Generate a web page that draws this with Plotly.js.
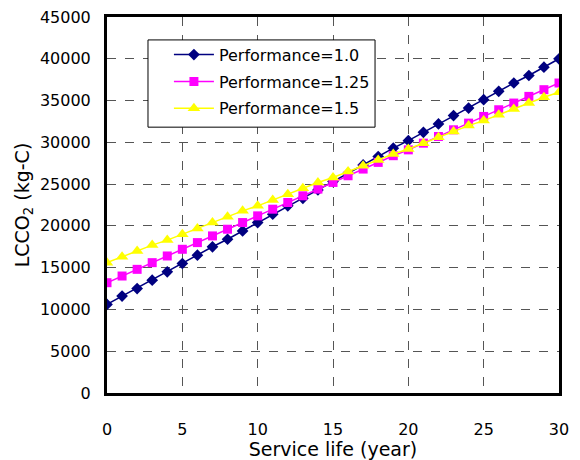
<!DOCTYPE html>
<html><head><meta charset="utf-8">
<script src="https://cdn.plot.ly/plotly-3.0.1.min.js"></script>
<style>body{margin:0;background:#fff}#c{width:580px;height:460px}</style>
</head><body><div id="c"></div>
<script>
const years = [0,1,2,3,4,5,6,7,8,9,10,11,12,13,14,15,16,17,18,19,20,21,22,23,24,25,26,27,28,29,30];
const perf10 = [10600,11600,12500,13500,14500,15500,16500,17500,18400,19400,20400,21400,22400,23300,24300,25300,26300,27300,28300,29300,30200,31200,32200,33200,34100,35100,36100,37100,38000,39000,40000];
const perf125 = [13200,14000,14800,15600,16400,17200,18000,18800,19600,20400,21200,22000,22800,23600,24400,25200,26000,26800,27600,28400,29100,29900,30700,31500,32300,33100,33900,34700,35500,36300,37100];
const perf15 = [15600,16300,17000,17700,18300,19000,19700,20400,21100,21800,22400,23100,23800,24500,25200,25800,26500,27200,27900,28600,29200,29900,30600,31300,32000,32600,33300,34000,34700,35400,36000];
const names = ["Performance=1.0","Performance=1.25","Performance=1.5"];
const xTicks = [0,5,10,15,20,25,30];
const yTicks = [0,5000,10000,15000,20000,25000,30000,35000,40000,45000];

const font = "'DejaVu Sans', sans-serif";
const traces = [
  {x: years, y: perf10, name: names[0], legendgroup:'a', mode: 'lines+markers', line:{color:'#000080', width:1.5}, marker:{symbol:'diamond', size:9, color:'#000080'}},
  {x: years, y: perf125, name: names[1], legendgroup:'b', mode: 'lines+markers', line:{color:'#FF00FF', width:1.5}, marker:{symbol:'square', size:9, color:'#FF00FF'}},
  {x: years, y: perf15, name: names[2], legendgroup:'c', mode: 'lines+markers', line:{color:'#FFFF00', width:1.5}, marker:{symbol:'triangle-up', size:11, color:'#FFFF00'}}
];
const layout = {
  width:580, height:460,
  margin:{l:107, r:21, t:17, b:67},
  paper_bgcolor:'#fff', plot_bgcolor:'#fff',
  font:{family:font, color:'#000', size:15},
  showlegend:true,
  shapes:[{type:'rect', xref:'paper', yref:'paper', x0:0.0907, x1:0.593, y0:0.707, y1:0.939,
    line:{color:'#000', width:1}, fillcolor:'#fff', layer:'above'}],
  legend:{x:0.137, y:0.945, xanchor:'left', yanchor:'top', bgcolor:'rgba(0,0,0,0)', borderwidth:0,
    font:{size:16, family:font}, tracegroupgap:3, itemwidth:40},
  xaxis:{range:[0,30], tickvals:xTicks, ticktext:xTicks.map(String), showgrid:true, gridcolor:'#555', griddash:'dash', gridwidth:1,
    showline:true, linecolor:'#000', linewidth:3, mirror:true, ticks:'', zeroline:false, ticklabelstandoff:20,
    tickfont:{size:16, family:font},
    title:{text:'Service life (year)', font:{size:19, family:font}, standoff:0}},
  yaxis:{range:[0,45000], tickvals:yTicks, ticktext:yTicks.map(String), showgrid:true, gridcolor:'#555', griddash:'dash', gridwidth:1,
    showline:true, linecolor:'#000', linewidth:3, mirror:true, ticks:'', zeroline:false, ticklabelstandoff:10,
    tickfont:{size:16, family:font},
    title:{text:'LCCO<sub>2</sub> (kg-C)', font:{size:19, family:font}, standoff:6}}
};
Plotly.newPlot('c', traces, layout, {displayModeBar:false, staticPlot:true});
</script></body></html>
